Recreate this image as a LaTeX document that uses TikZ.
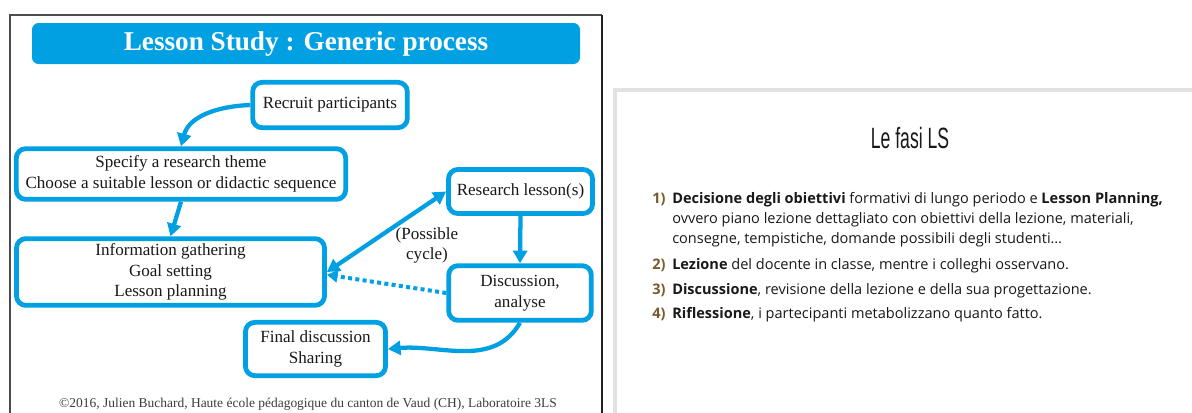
\documentclass[tikz,border=0pt]{standalone}
\usepackage{fontspec}
\setmainfont{Liberation Serif}
\newfontfamily\slidefont{Open Sans}
\newfontfamily\slidetitlefont[FakeStretch=0.6]{Liberation Sans}
\usetikzlibrary{arrows.meta,calc}
\definecolor{lsblue}{RGB}{0,160,227}
\definecolor{numbrown}{RGB}{122,90,45}
\definecolor{slidegray}{RGB}{226,226,226}
\definecolor{txt}{RGB}{25,25,25}
\definecolor{copygray}{RGB}{60,60,60}
\begin{document}
\begin{tikzpicture}[x=0.75pt,y=-0.75pt,
  box/.style={draw=lsblue, line width=3.6pt, rounded corners=7pt, fill=white,
    align=center, inner sep=0pt, text=txt, font=\fontsize{12.8}{15.5}\selectfont},
  arr/.style={draw=lsblue, line width=3.2pt, -{Triangle[length=9.5pt,width=10.5pt]}},
  dblarr/.style={draw=lsblue, line width=3.2pt, {Triangle[length=9.5pt,width=10.5pt]}-{Triangle[length=9.5pt,width=10.5pt]}},
  dotarr/.style={draw=lsblue, line width=3pt, dash pattern=on 3pt off 2.5pt, -{Triangle[length=8pt,width=9pt]}},
  item/.style={anchor=base west, inner sep=0pt, text=txt, font=\slidefont\fontsize{10.9}{15}\selectfont},
  num/.style={anchor=base west, inner sep=0pt, text=numbrown, font=\slidefont\bfseries\fontsize{10.9}{15}\selectfont}]
\useasboundingbox (0,0) rectangle (1192,412);
\fill[white] (0,0) rectangle (1192,412);
% left frame
\draw[line width=0.9pt, black!70] (10,420) -- (10,15) -- (602,15);
\draw[line width=1.6pt, black!88] (602,15) -- (602,420);
% banner
\fill[lsblue, rounded corners=5pt] (32,23) rectangle (580,64);
\node[text=white, font=\bfseries\fontsize{20.4}{24}\selectfont, inner sep=0pt] (title) at (306,44) {Lesson Study : Generic process};
% boxes
\node[box, minimum width=116pt, minimum height=34pt] (rec) at (330,105) {Recruit participants};
\node[box, minimum width=247pt, minimum height=38pt] (spec) at (181,174) {Specify a research theme\\Choose a suitable lesson or didactic sequence};
\node[box, minimum width=231pt, minimum height=50pt] (info) at (170.5,272) {Information gathering\\Goal setting\\Lesson planning};
\node[box, minimum width=108pt, minimum height=33pt] (res) at (520.5,191.5) {Research lesson(s)};
\node[box, minimum width=107pt, minimum height=41pt] (disc) at (520,293) {Discussion,\\analyse};
\node[box, minimum width=105pt, minimum height=40pt] (fin) at (315.5,349) {Final discussion\\Sharing};
\node[align=center, inner sep=0pt, text=txt, font=\fontsize{12.8}{15}\selectfont] (cyc) at (427,245) {(Possible\\cycle)};
% connectors
\draw[arr] (rec.west) to[out=182, in=75] (spec.north);
\draw[arr] (spec.south) -- (info.north);
\draw[dblarr] (info.east) -- (res.west);
\draw[arr] (res.south) -- (disc.north);
\draw[dotarr] (disc.west) -- ([yshift=-2pt]info.east);
\draw[arr] (disc.south) to[out=-120, in=5] (fin.east);
% copyright
\node[text=copygray, inner sep=0pt, font=\fontsize{10.1}{11}\selectfont] (copy) at (308,404) {\textcopyright2016, Julien Buchard, Haute école pédagogique du canton de Vaud (CH), Laboratoire 3LS};
% right slide
\draw[line width=3pt, slidegray] (615,420) -- (615,90) -- (1200,90);
\node[inner sep=0pt, text=txt, font=\slidetitlefont\fontsize{22}{24}\selectfont] (stitle) at (910,138) {Le fasi LS};
\node[num] (n1) at (652,203) {1)};
\node[item] (l1a) at (672,203) {\textbf{Decisione degli obiettivi} formativi di lungo periodo e \textbf{Lesson Planning,}};
\node[item] (l1b) at (672,223) {ovvero piano lezione dettagliato con obiettivi della lezione, materiali,};
\node[item] (l1c) at (672,243) {consegne, tempistiche, domande possibili degli studenti…};
\node[num] (n2) at (652,269) {2)};
\node[item] (l2) at (672,269) {\textbf{Lezione} del docente in classe, mentre i colleghi osservano.};
\node[num] (n3) at (652,294) {3)};
\node[item] (l3) at (672,294) {\textbf{Discussione}, revisione della lezione e della sua progettazione.};
\node[num] (n4) at (652,318) {4)};
\node[item] (l4) at (672,318) {\textbf{Riflessione}, i partecipanti metabolizzano quanto fatto.};
\end{tikzpicture}
\end{document}
